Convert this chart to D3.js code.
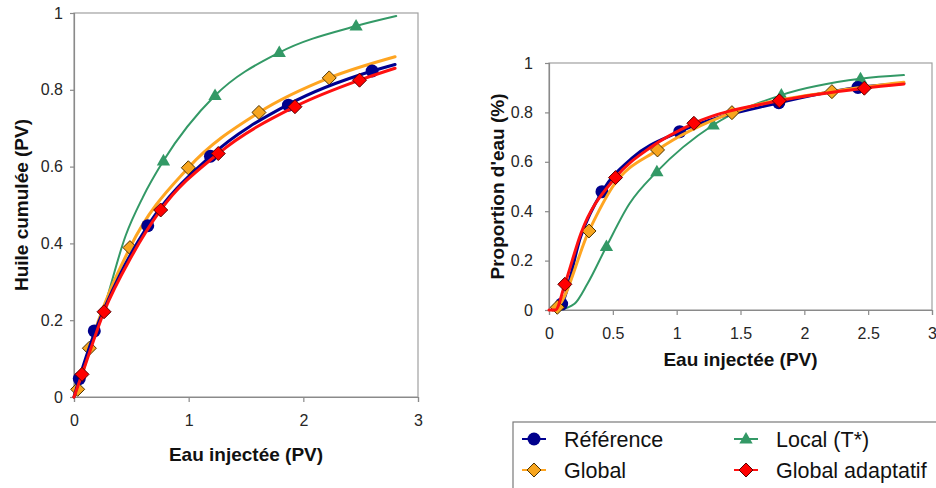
<!DOCTYPE html>
<html><head><meta charset="utf-8">
<script src="https://cdn.jsdelivr.net/npm/d3@7"></script>
<style>
html,body{margin:0;padding:0;background:#fff;}
svg{display:block;font-family:"Liberation Sans",Arial,sans-serif;}
</style></head>
<body>
<svg id="c" width="936" height="488"></svg>
<script>
// ---------- DATA ----------
const seriesNames = ["Référence", "Local (T*)", "Global", "Global adaptatif"];

// Left chart: Huile cumulée (PV) vs Eau injectée (PV)
const leftXTicks = [0, 1, 2, 3];
const leftYTicks = [0, 0.2, 0.4, 0.6, 0.8, 1];
const leftRefLine   = [[0,0],[0.046,0.048],[0.177,0.165],[0.4,0.318],[0.643,0.446],[1.19,0.627],[1.87,0.762],[2.6,0.849],[2.8,0.866]];
const leftRefPts    = [[0.046,0.048],[0.177,0.172],[0.643,0.446],[1.19,0.627],[1.87,0.760],[2.6,0.849]];
const leftLocalLine = [[0,0],[0.27,0.24],[0.45,0.42],[0.6,0.52],[0.78,0.615],[1.23,0.785],[1.79,0.897],[2.46,0.966],[2.81,0.992]];
const leftLocalPts  = [[0.78,0.615],[1.23,0.785],[1.79,0.897],[2.46,0.966]];
const leftGlobLine  = [[0,0],[0.032,0.02],[0.134,0.127],[0.488,0.389],[0.997,0.597],[1.613,0.741],[2.226,0.831],[2.8,0.886]];
const leftGlobPts   = [[0.032,0.02],[0.134,0.127],[0.488,0.389],[0.997,0.597],[1.613,0.741],[2.226,0.831]];
const leftAdaLine   = [[0,0],[0.07,0.059],[0.262,0.222],[0.5,0.365],[0.756,0.487],[1.258,0.634],[1.927,0.756],[2.49,0.825],[2.8,0.856]];
const leftAdaPts    = [[0.07,0.059],[0.262,0.222],[0.756,0.487],[1.258,0.634],[1.927,0.756],[2.49,0.825]];

// Right chart: Proportion d'eau (%) vs Eau injectée (PV)
const rightXTicks = [0, 0.5, 1, 1.5, 2, 2.5, 3];
const rightYTicks = [0, 0.2, 0.4, 0.6, 0.8, 1];
const rightRefLine   = [[0.03,0],[0.099,0.024],[0.25,0.3],[0.415,0.479],[0.65,0.615],[1.024,0.722],[1.8,0.839],[2.42,0.901],[2.78,0.917]];
const rightRefPts    = [[0.099,0.024],[0.415,0.479],[1.024,0.722],[1.8,0.839],[2.42,0.901]];
const rightLocalLine = [[0.08,0],[0.2,0.025],[0.3,0.105],[0.45,0.257],[0.63,0.43],[0.845,0.56],[1.286,0.749],[1.82,0.870],[2.44,0.936],[2.78,0.951]];
const rightLocalPts  = [[0.45,0.257],[0.845,0.56],[1.286,0.749],[1.82,0.870],[2.44,0.936]];
const rightGlobLine  = [[0.03,0],[0.065,0.011],[0.313,0.32],[0.5,0.5],[0.85,0.648],[1.433,0.799],[2.216,0.884],[2.78,0.922]];
const rightGlobPts   = [[0.065,0.011],[0.313,0.32],[0.85,0.648],[1.433,0.799],[2.216,0.884]];
const rightAdaLine   = [[0,0],[0.05,0.0],[0.124,0.104],[0.25,0.31],[0.521,0.536],[0.8,0.66],[1.135,0.756],[1.804,0.847],[2.47,0.898],[2.78,0.915]];
const rightAdaPts    = [[0.124,0.104],[0.521,0.536],[1.135,0.756],[1.804,0.847],[2.47,0.898]];

// ---------- STYLE ----------
const styles = {
  "Référence":        {line:"#000090", width:3,   shape:"circle",   fill:"#00008c", stroke:"none"},
  "Local (T*)":       {line:"#339966", width:2,   shape:"triangle", fill:"#339966", stroke:"none"},
  "Global":           {line:"#FFA521", width:3,   shape:"diamond",  fill:"#F7A51E", stroke:"#4d3300"},
  "Global adaptatif": {line:"#FF1010", width:3,   shape:"diamond",  fill:"#FF0000", stroke:"#5a0000"}
};

const svg = d3.select("#c");

function marker(g, shape, x, y, st) {
  if (shape === "circle") {
    g.append("circle").attr("cx", x).attr("cy", y).attr("r", 6.5).attr("fill", st.fill);
  } else if (shape === "diamond") {
    const s = 7;
    g.append("path").attr("d", `M${x},${y-s}L${x+s},${y}L${x},${y+s}L${x-s},${y}Z`)
      .attr("fill", st.fill).attr("stroke", st.stroke).attr("stroke-width", 1);
  } else {
    const s = 7;
    g.append("path").attr("d", `M${x},${y-s}L${x+s*0.95},${y+s*0.65}L${x-s*0.95},${y+s*0.65}Z`)
      .attr("fill", st.fill);
  }
}

function drawChart(cfg) {
  const x = d3.scaleLinear().domain([0, 3]).range([cfg.x0, cfg.x1]);
  const y = d3.scaleLinear().domain([0, 1]).range([cfg.y0, cfg.y1]);
  const g = svg.append("g");

  // plot frame
  g.append("rect").attr("x", cfg.x0).attr("y", cfg.y1)
    .attr("width", cfg.x1 - cfg.x0).attr("height", cfg.y0 - cfg.y1)
    .attr("fill", "none").attr("stroke", "#a0a0a0").attr("stroke-width", 1.2);

  const ax = g.append("g").attr("transform", `translate(0,${cfg.y0})`)
    .call(d3.axisBottom(x).tickValues(cfg.xTicks).tickSize(5).tickPadding(13).tickFormat(d3.format("")));
  const ay = g.append("g").attr("transform", `translate(${cfg.x0},0)`)
    .call(d3.axisLeft(y).tickValues(cfg.yTicks).tickSize(4).tickPadding(cfg.yPad).tickFormat(d3.format("")));
  [ax, ay].forEach(a => {
    a.selectAll("path.domain").attr("stroke", "#8a8a8a").attr("stroke-width", 1.2);
    a.selectAll(".tick line").attr("stroke", "#8a8a8a").attr("stroke-width", 1.2);
    a.selectAll(".tick text").attr("fill", "#262626").style("font-size", "16px")
      .style("font-family", "'Liberation Sans',Arial,sans-serif");
  });

  const line = d3.line().x(d => x(d[0])).y(d => y(d[1])).curve(d3.curveMonotoneX);
  cfg.series.forEach(s => {
    const st = styles[s.name];
    g.append("path").datum(s.line).attr("d", line)
      .attr("fill", "none").attr("stroke", st.line).attr("stroke-width", st.width)
      .attr("stroke-linejoin", "round").attr("stroke-linecap", "round");
    s.pts.forEach(p => marker(g, st.shape, x(p[0]), y(p[1]), st));
  });

  g.append("text").attr("x", (cfg.x0 + cfg.x1) / 2).attr("y", cfg.xTitleY)
    .attr("text-anchor", "middle").attr("font-weight", "bold").attr("font-size", 19)
    .attr("fill", "#111").text(cfg.xTitle);
  g.append("text")
    .attr("transform", `translate(${cfg.yTitleX},${(cfg.y0 + cfg.y1) / 2}) rotate(-90)`)
    .attr("text-anchor", "middle").attr("font-weight", "bold").attr("font-size", 19)
    .attr("fill", "#111").text(cfg.yTitle);
}

drawChart({
  x0: 74, x1: 418, y0: 397, y1: 13, yPad: 7,
  xTicks: leftXTicks, yTicks: leftYTicks,
  xTitle: "Eau injectée (PV)", yTitle: "Huile cumulée (PV)",
  xTitleY: 461, yTitleX: 28,
  series: [
    {name: "Local (T*)", line: leftLocalLine, pts: leftLocalPts},
    {name: "Global", line: leftGlobLine, pts: leftGlobPts},
    {name: "Référence", line: leftRefLine, pts: leftRefPts},
    {name: "Global adaptatif", line: leftAdaLine, pts: leftAdaPts}
  ]
});

drawChart({
  x0: 549, x1: 932, y0: 310, y1: 63, yPad: 12,
  xTicks: rightXTicks, yTicks: rightYTicks,
  xTitle: "Eau injectée (PV)", yTitle: "Proportion d'eau (%)",
  xTitleY: 366, yTitleX: 504,
  series: [
    {name: "Local (T*)", line: rightLocalLine, pts: rightLocalPts},
    {name: "Référence", line: rightRefLine, pts: rightRefPts},
    {name: "Global", line: rightGlobLine, pts: rightGlobPts},
    {name: "Global adaptatif", line: rightAdaLine, pts: rightAdaPts}
  ]
});

// ---------- LEGEND ----------
const lg = svg.append("g");
lg.append("rect").attr("x", 513).attr("y", 422).attr("width", 440).attr("height", 80)
  .attr("fill", "#fff").attr("stroke", "#7a7a7a").attr("stroke-width", 1.2);
const legendItems = [
  {name: "Référence", cx: 534, cy: 439},
  {name: "Local (T*)", cx: 746, cy: 439},
  {name: "Global", cx: 534, cy: 470},
  {name: "Global adaptatif", cx: 746, cy: 470}
];
legendItems.forEach(it => {
  const st = styles[it.name];
  lg.append("line").attr("x1", it.cx - 12).attr("x2", it.cx + 12)
    .attr("y1", it.cy).attr("y2", it.cy).attr("stroke", st.line).attr("stroke-width", 2);
  marker(lg, st.shape, it.cx, it.cy, st);
  lg.append("text").attr("x", it.cx + 30).attr("y", it.cy + 7.5)
    .attr("font-size", 21.5).attr("fill", "#111").text(it.name);
});
</script>
</body></html>
